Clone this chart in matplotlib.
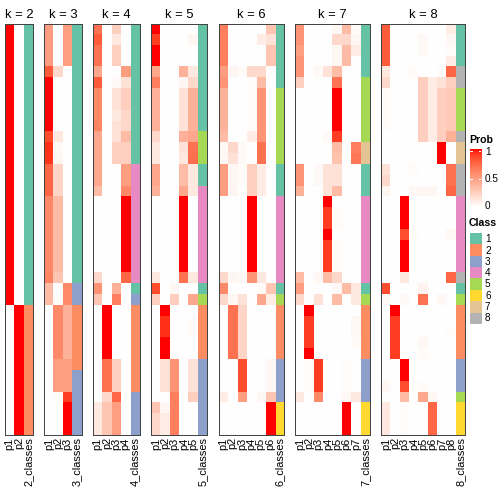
import numpy as np
import matplotlib
matplotlib.use('Agg')
import matplotlib.pyplot as plt
from matplotlib.colors import ListedColormap

# membership probabilities per k (rows = samples, cols = p1..pk)
prob_k2 = [
    [1, 0], [1, 0], [1, 0], [1, 0], [1, 0], [1, 0], [1, 0], [1, 0], [1, 0], [1, 0],
    [1, 0], [1, 0], [1, 0], [1, 0], [1, 0], [1, 0], [1, 0], [1, 0], [1, 0], [1, 0],
    [1, 0], [1, 0], [1, 0], [1, 0], [1, 0], [1, 0],
    [0, 1], [0, 1], [0, 1], [0, 1], [0, 1], [0, 1],
    [0, 1], [0, 1], [0, 1], [0, 1], [0, 1], [0, 1],
]
class_k2 = [1, 1, 1, 1, 1, 1, 1, 1, 1, 1, 1, 1, 1, 1, 1, 1, 1, 1, 1, 1, 1, 1, 1, 1, 1, 1,
            2, 2, 2, 2, 2, 2, 2, 2, 2, 2, 2, 2]

prob_k3 = [
    [.50, 0, .50], [.50, 0, .50], [.50, 0, .50], [.50, 0, .50], [.80, .20, 0],
    [1, 0, 0], [1, 0, 0], [1, 0, 0], [1, 0, 0], [1, 0, 0],
    [.85, .12, 0], [.93, .03, 0], [.92, .05, 0], [.75, .22, 0], [.75, .22, 0],
    [.75, .22, 0], [.60, .35, 0], [.60, .35, 0], [.60, .35, 0], [.60, .35, 0],
    [.60, .35, 0], [.60, .35, 0], [.60, .35, 0], [.62, .30, 0], [.35, 0, .60],
    [.35, .02, .60], [0, .60, .40], [0, .60, .40], [0, .60, .40], [0, .60, .40],
    [0, .60, .40], [0, .50, .50], [0, .50, .50], [0, .50, .50], [0, .02, .90],
    [0, 0, 1], [0, 0, 1], [0, 0, 1],
]
class_k3 = [1, 1, 1, 1, 1, 1, 1, 1, 1, 1, 1, 1, 1, 1, 1, 1, 1, 1, 1, 1, 1, 1, 1, 1,
            3, 3, 2, 2, 2, 2, 2, 2, 3, 3, 3, 3, 3, 3]

prob_k4 = [
    [.70, 0, .25, 0], [.80, 0, .12, 0], [.70, 0, .25, 0], [.70, 0, .25, 0],
    [.45, 0, 0, .50], [.80, 0, .03, .15], [.60, 0, .15, .25], [.60, 0, .15, .25],
    [.60, 0, .12, .20], [.62, 0, .15, .20], [.45, 0, .15, .35], [.45, 0, .25, .25],
    [.45, 0, .25, .25], [.45, 0, 0, .50], [.45, 0, 0, .50], [.35, 0, 0, .60],
    [0, 0, 0, 1], [0, 0, 0, 1], [0, 0, 0, 1], [0, 0, 0, 1],
    [0, 0, 0, 1], [0, 0, 0, 1], [0, 0, 0, 1], [.20, 0, 0, .75],
    [.55, 0, .40, 0], [.30, 0, .65, 0], [0, 1, 0, 0], [0, 1, 0, 0],
    [0, 1, 0, 0], [0, 1, 0, 0], [0, 1, 0, 0], [0, .70, .25, 0],
    [0, .70, .25, 0], [0, .70, .25, 0], [0, .20, .75, 0], [.12, .30, .50, 0],
    [.12, .30, .50, 0], [.12, .30, .50, 0],
]
class_k4 = [1, 1, 1, 1, 1, 1, 1, 1, 1, 1, 1, 1, 1, 4, 4, 4, 4, 4, 4, 4, 4, 4, 4, 4,
            1, 3, 2, 2, 2, 2, 2, 2, 2, 2, 3, 3, 3, 3]

prob_k5 = [
    [1, 0, 0, 0, 0], [.90, 0, 0, 0, .05], [1, 0, 0, 0, 0], [1, 0, 0, 0, 0],
    [.45, 0, 0, .40, .12], [.65, 0, 0, .05, .20], [.40, 0, 0, .15, .40], [.40, 0, 0, .15, .40],
    [.40, 0, 0, .15, .40], [.40, 0, 0, .15, .40], [.20, 0, 0, .40, .45], [.12, 0, 0, .15, .70],
    [.12, 0, 0, .12, .72], [.45, 0, 0, .35, .12], [.45, 0, 0, .35, .12], [.40, 0, 0, .45, .12],
    [0, 0, 0, 1, 0], [0, 0, 0, 1, 0], [0, 0, 0, 1, 0], [0, 0, 0, 1, 0],
    [0, 0, 0, 1, 0], [0, 0, 0, 1, 0], [0, 0, 0, 1, 0], [.12, 0, 0, .70, .12],
    [.85, 0, .04, 0, 0], [.25, 0, .25, 0, .45], [0, 1, 0, 0, 0], [0, .93, 0, 0, .02],
    [0, .93, 0, 0, .02], [0, 1, 0, 0, 0], [0, 1, 0, 0, 0], [0, .15, .55, 0, .15],
    [0, .15, .55, 0, .15], [0, .15, .55, 0, .15], [0, 0, .65, 0, .25], [.30, .05, .65, 0, 0],
    [.20, .10, .65, 0, 0], [.20, .10, .65, 0, 0],
]
class_k5 = [1, 1, 1, 1, 1, 1, 1, 1, 1, 1, 5, 5, 5, 1, 1, 4, 4, 4, 4, 4, 4, 4, 4, 4,
            1, 5, 2, 2, 2, 2, 2, 3, 3, 3, 3, 3, 3, 3]

prob_k6 = [
    [.65, 0, 0, 0, 0, .30], [.65, 0, 0, 0, .10, .15], [.65, 0, 0, 0, 0, .30],
    [.65, 0, 0, 0, 0, .30], [.50, .05, .02, .20, .20, 0], [.55, 0, 0, .02, .35, 0],
    [.40, 0, 0, .02, .55, 0], [.40, 0, 0, .02, .55, 0], [.40, 0, 0, .02, .55, 0],
    [.40, 0, 0, .02, .55, 0], [.35, 0, 0, .10, .55, 0], [.03, .20, .03, 0, .70, 0],
    [.03, .15, .03, 0, .70, 0], [.50, .05, .02, .25, .10, 0], [.50, .05, .02, .25, .10, 0],
    [.50, .05, 0, .25, .10, 0], [0, 0, 0, 1, 0, 0], [0, 0, 0, 1, 0, 0],
    [0, 0, 0, 1, 0, 0], [0, 0, 0, 1, 0, 0], [0, 0, 0, 1, 0, 0],
    [0, 0, 0, 1, 0, 0], [0, 0, 0, 1, 0, 0], [.20, .05, .03, .55, .12, 0],
    [.60, 0, 0, 0, .02, .30], [.20, .04, .15, 0, .45, .10], [0, .70, .22, 0, 0, 0],
    [0, .70, .22, 0, 0, 0], [0, .70, .22, 0, 0, 0], [0, .70, .22, 0, 0, 0],
    [0, .70, .22, 0, 0, 0], [0, 0, .85, 0, 0, .04], [0, 0, .85, 0, 0, .04],
    [0, 0, .85, 0, 0, .04], [.10, 0, .50, 0, .04, .30], [0, 0, 0, 0, 0, 1],
    [0, 0, 0, 0, 0, 1], [0, 0, 0, 0, 0, 1],
]
class_k6 = [1, 1, 1, 1, 1, 1, 5, 5, 5, 5, 5, 5, 5, 1, 1, 1, 4, 4, 4, 4, 4, 4, 4, 4,
            1, 5, 2, 2, 2, 2, 2, 3, 3, 3, 3, 6, 6, 6]

prob_k7 = [
    [.55, 0, 0, 0, .04, .35, .02], [.55, 0, 0, 0, .20, .20, .05], [.50, 0, 0, 0, .04, .35, .10],
    [.55, 0, 0, 0, .04, .35, 0], [.55, 0, .03, .15, .35, 0, 0], [.25, 0, 0, 0, .70, 0, 0],
    [0, 0, 0, 0, 1, 0, 0], [0, 0, 0, 0, 1, 0, 0], [0, 0, 0, 0, 1, 0, 0],
    [0, 0, 0, 0, 1, 0, 0], [0, 0, 0, .03, .90, 0, 0], [0, 0, 0, 0, .35, 0, .65],
    [0, 0, 0, 0, .32, 0, .68], [.55, 0, .03, .15, .15, 0, 0], [.55, 0, .03, .15, .15, 0, 0],
    [.40, 0, 0, .15, .35, 0, 0], [0, 0, 0, 1, 0, 0, 0], [0, 0, 0, .90, .02, 0, 0],
    [0, 0, 0, .90, .02, 0, 0], [0, 0, 0, 1, 0, 0, 0], [0, 0, 0, .90, .02, 0, 0],
    [0, 0, 0, .90, .02, 0, 0], [0, 0, 0, .90, .02, 0, 0], [.35, 0, .04, .35, .20, 0, 0],
    [.50, 0, 0, 0, .03, .35, .12], [.20, 0, .15, 0, .35, 0, .12], [0, 1, 0, 0, 0, 0, 0],
    [0, .90, 0, 0, 0, 0, .04], [0, .90, 0, 0, 0, 0, .04], [0, .90, 0, 0, 0, 0, .02],
    [0, 1, 0, 0, 0, 0, 0], [0, .02, .90, 0, 0, .02, 0], [0, .02, .90, 0, 0, .02, 0],
    [0, .02, .90, 0, 0, .02, 0], [.12, 0, .60, 0, 0, .04, .12], [0, 0, 0, 0, 0, 1, 0],
    [0, 0, 0, 0, 0, 1, 0], [0, 0, 0, 0, 0, 1, 0],
]
class_k7 = [1, 1, 1, 1, 1, 5, 5, 5, 5, 5, 5, 7, 7, 1, 1, 1, 4, 4, 4, 4, 4, 4, 4, 4,
            1, 5, 2, 2, 2, 2, 2, 3, 3, 3, 3, 6, 6, 6]

prob_k8 = [
    [.80, 0, 0, 0, 0, 0, 0, .10], [.80, 0, 0, 0, .03, 0, 0, .04],
    [.80, 0, 0, 0, .03, 0, 0, .02], [.80, 0, 0, 0, 0, 0, 0, .10],
    [.12, 0, 0, .02, 0, 0, .02, .75], [.20, 0, 0, 0, .25, .10, .15, .25],
    [.02, 0, 0, 0, .25, .10, .25, .28], [.02, 0, 0, 0, .25, .10, .25, .28],
    [.02, 0, 0, 0, .25, .10, .25, .28], [.02, 0, 0, 0, .25, .10, .25, .28],
    [0, 0, 0, 0, .25, .10, .25, .40], [0, 0, 0, 0, 0, 0, 1, 0],
    [0, 0, 0, 0, 0, 0, 1, 0], [.15, 0, 0, .02, 0, 0, 0, .70],
    [.20, 0, 0, 0, 0, 0, 0, .70], [.05, 0, 0, .03, .05, .05, 0, .75],
    [0, 0, 1, 0, 0, 0, 0, 0], [0, 0, 1, 0, 0, 0, 0, 0],
    [0, 0, 1, 0, 0, 0, 0, 0], [0, 0, .85, .02, 0, 0, 0, .04],
    [0, 0, 1, 0, 0, 0, 0, 0], [0, 0, 1, 0, 0, 0, 0, 0],
    [0, 0, 1, 0, 0, 0, 0, 0], [0, 0, .12, 0, 0, 0, 0, .75],
    [.85, 0, 0, 0, .06, 0, 0, 0], [.03, 0, .03, 0, .70, 0, .04, 0],
    [0, 1, 0, 0, 0, 0, 0, 0], [0, .90, 0, 0, 0, 0, 0, 0],
    [0, .90, 0, 0, 0, 0, 0, .02], [0, .90, 0, 0, .04, 0, 0, 0],
    [0, .90, 0, 0, .02, 0, 0, 0], [0, 0, 1, 0, 0, 0, 0, 0],
    [0, 0, 1, 0, 0, 0, 0, 0], [.04, 0, .85, 0, .02, 0, 0, 0],
    [0, 0, .35, 0, .45, .04, 0, 0], [.12, 0, .02, 0, 0, .75, 0, 0],
    [.12, 0, .02, 0, 0, .75, 0, 0], [.12, 0, .02, 0, 0, .75, 0, 0],
]
class_k8 = [1, 1, 1, 1, 8, 8, 5, 5, 5, 5, 8, 7, 7, 8, 8, 8, 4, 4, 4, 4, 4, 4, 4, 8,
            1, 5, 2, 2, 2, 2, 2, 3, 3, 3, 5, 6, 6, 6]

class_colors = ['#66C2A5', '#FC8D62', '#8DA0CB', '#E78AC3',
                '#A6D854', '#FFD92F', '#E5C494', '#B3B3B3']
class_labels = ['1', '2', '3', '4', '5', '6', '7', '8']
prob_ticks = [1, 0.5, 0]


# white -> red ramp interpolated in LAB space (like colorRamp2)
WHITE_XYZ = np.array([0.95047, 1.0, 1.08883])
M = np.array([[0.4124, 0.3576, 0.1805], [0.2126, 0.7152, 0.0722], [0.0193, 0.1192, 0.9505]])


def rgb2lab(rgb):
    c = np.where(rgb > 0.04045, ((rgb + 0.055) / 1.055) ** 2.4, rgb / 12.92)
    xyz = M @ c / WHITE_XYZ
    f = np.where(xyz > (6 / 29) ** 3, np.cbrt(xyz), xyz / (3 * (6 / 29) ** 2) + 4 / 29)
    return np.array([116 * f[1] - 16, 500 * (f[0] - f[1]), 200 * (f[1] - f[2])])


def lab2rgb(lab):
    fy = (lab[0] + 16) / 116
    f = np.array([fy + lab[1] / 500, fy, fy - lab[2] / 200])
    xyz = np.where(f > 6 / 29, f ** 3, 3 * (6 / 29) ** 2 * (f - 4 / 29)) * WHITE_XYZ
    c = np.linalg.solve(M, xyz)
    c = np.clip(c, 0, 1)
    return np.clip(np.where(c > 0.0031308, 1.055 * c ** (1 / 2.4) - 0.055, 12.92 * c), 0, 1)


lab_w = rgb2lab(np.array([1.0, 1.0, 1.0]))
lab_r = rgb2lab(np.array([1.0, 0.0, 0.0]))
ramp = [lab2rgb(lab_w + t * (lab_r - lab_w)) for t in np.linspace(0, 1, 256)]
prob_cmap = ListedColormap(ramp)
class_cmap = ListedColormap(class_colors)

plt.rcParams['font.family'] = ['Liberation Sans', 'DejaVu Sans']

W = H = 504
fig = plt.figure(figsize=(7, 7), dpi=72)

panels = [(2, prob_k2, class_k2), (3, prob_k3, class_k3), (4, prob_k4, class_k4),
          (5, prob_k5, class_k5), (6, prob_k6, class_k6), (7, prob_k7, class_k7),
          (8, prob_k8, class_k8)]

col_w = 9.33
gap = 11.4
top, bottom = 23.7, 435.3
x = 5.0
for k, prob, cls in panels:
    n = k + 1
    ax = fig.add_axes([x / W, 1 - bottom / H, n * col_w / W, (bottom - top) / H])
    p_rgba = prob_cmap(np.asarray(prob, dtype=float))
    c_rgba = class_cmap(np.asarray(cls) - 1)[:, None, :]
    ax.imshow(np.concatenate([p_rgba, c_rgba], axis=1), aspect='auto',
              interpolation='nearest')
    ax.set_xticks(range(n))
    ax.set_xticklabels([f'p{i + 1}' for i in range(k)] + [f'{k}_classes'],
                       rotation=90, fontsize=11)
    ax.tick_params(axis='x', length=0, pad=2)
    ax.set_yticks([])
    ax.set_title(f'k = {k}', fontsize=13, pad=6)
    for s in ax.spines.values():
        s.set_color('#444444')
        s.set_linewidth(1)
    x += n * col_w + gap

# Prob legend
fig.text(469 / W, 1 - 140 / H, 'Prob', fontsize=10.5, fontweight='bold', va='center')
cax = fig.add_axes([469.5 / W, 1 - 207 / H, 11.5 / W, 58 / H])
cax.imshow(np.linspace(1, 0, 200)[:, None], cmap=prob_cmap, vmin=0, vmax=1,
           aspect='auto', extent=[0, 1, -0.02, 1.04])
cax.set_xlim(0, 1)
cax.set_ylim(-0.02, 1.04)
for v in prob_ticks[:2]:
    cax.plot([0, 0.18], [v, v], color='white', lw=1)
    cax.plot([0.82, 1], [v, v], color='white', lw=1)
cax.axis('off')
for v in prob_ticks:
    fig.text(485 / W, 1 - (206 - v * 54) / H, str(v), fontsize=10, va='center')

# Class legend
fig.text(469 / W, 1 - 223 / H, 'Class', fontsize=10.5, fontweight='bold', va='center')
lax = fig.add_axes([469.5 / W, 1 - (233.5 + 8 * 11.3) / H, 11.5 / W, 8 * 11.3 / H])
lax.imshow(np.arange(len(class_colors))[:, None], cmap=class_cmap, aspect='auto',
           interpolation='nearest')
lax.axis('off')
for i, lab in enumerate(class_labels):
    fig.text(485 / W, 1 - (239.2 + i * 11.3) / H, lab, fontsize=10, va='center')

fig.savefig('out.png', dpi=72)
